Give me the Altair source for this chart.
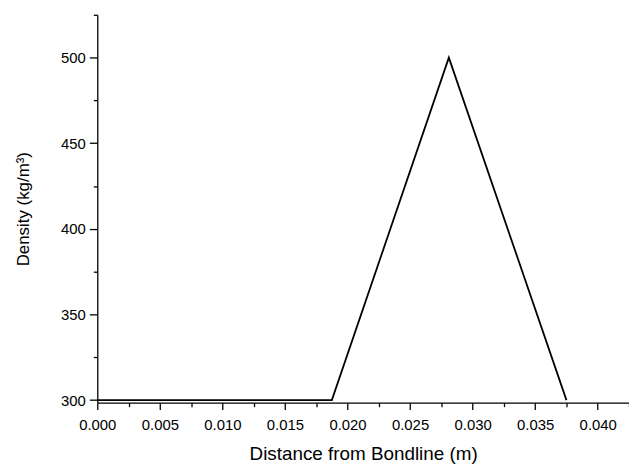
import altair as alt
import pandas as pd

distance = [0.0, 0.01875, 0.0281, 0.0375]
density = [300, 300, 500, 300]

x_major = [0.000, 0.005, 0.010, 0.015, 0.020, 0.025, 0.030, 0.035, 0.040]
x_minor = [0.0025, 0.0075, 0.0125, 0.0175, 0.0225, 0.0275, 0.0325, 0.0375, 0.0425]
y_major = [300, 350, 400, 450, 500]
y_minor = [325, 375, 425, 475, 525]

df = pd.DataFrame({"x": distance, "y": density})

FONT = "Liberation Sans"
xs = alt.Scale(domain=[0, 0.0425], nice=False, zero=False)
ys = alt.Scale(domain=[298.5, 525], nice=False, zero=False)

line = alt.Chart(df).mark_line(color="black", strokeWidth=1.8, clip=True).encode(
    x=alt.X("x:Q", scale=xs, axis=alt.Axis(
        values=x_major, format=".3f", orient="bottom", grid=False,
        title="Distance from Bondline (m)", titleFont=FONT, titleFontSize=19,
        titleFontWeight="normal", titleColor="black", titlePadding=12,
        labelFont=FONT, labelFontSize=15, labelColor="black", labelPadding=8,
        labelFlush=False, labelOverlap=False,
        tickSize=7, tickColor="black", tickWidth=1.3,
        domainColor="black", domainWidth=1.3)),
    y=alt.Y("y:Q", scale=ys, axis=alt.Axis(
        values=y_major, orient="left", grid=False,
        title="Density (kg/m³)", titleFont=FONT, titleFontSize=17,
        titleFontWeight="normal", titleColor="black", titlePadding=28,
        labelFont=FONT, labelFontSize=15, labelColor="black", labelPadding=4,
        labelFlush=False, labelOverlap=False,
        tickSize=8, tickColor="black", tickWidth=1.3,
        domainColor="black", domainWidth=1.3)),
)

minor = alt.Chart(df).mark_point(opacity=0).encode(
    x=alt.X("x:Q", scale=xs, axis=alt.Axis(
        values=x_minor, orient="bottom", labels=False, title=None, grid=False,
        domain=False, tickSize=4, tickColor="black", tickWidth=1.3)),
    y=alt.Y("y:Q", scale=ys, axis=alt.Axis(
        values=y_minor, orient="left", labels=False, title=None, grid=False,
        domain=False, tickSize=4, tickColor="black", tickWidth=1.3)),
)

chart = alt.layer(line, minor).resolve_axis(x="independent", y="independent").properties(
    width=536, height=391,
    autosize=alt.AutoSizeParams(type="none"),
    padding={"left": 90, "top": 5, "right": 0, "bottom": 62},
).configure_view(stroke=None)

chart.save("out.html", embed_options={"renderer": "svg", "actions": False})
